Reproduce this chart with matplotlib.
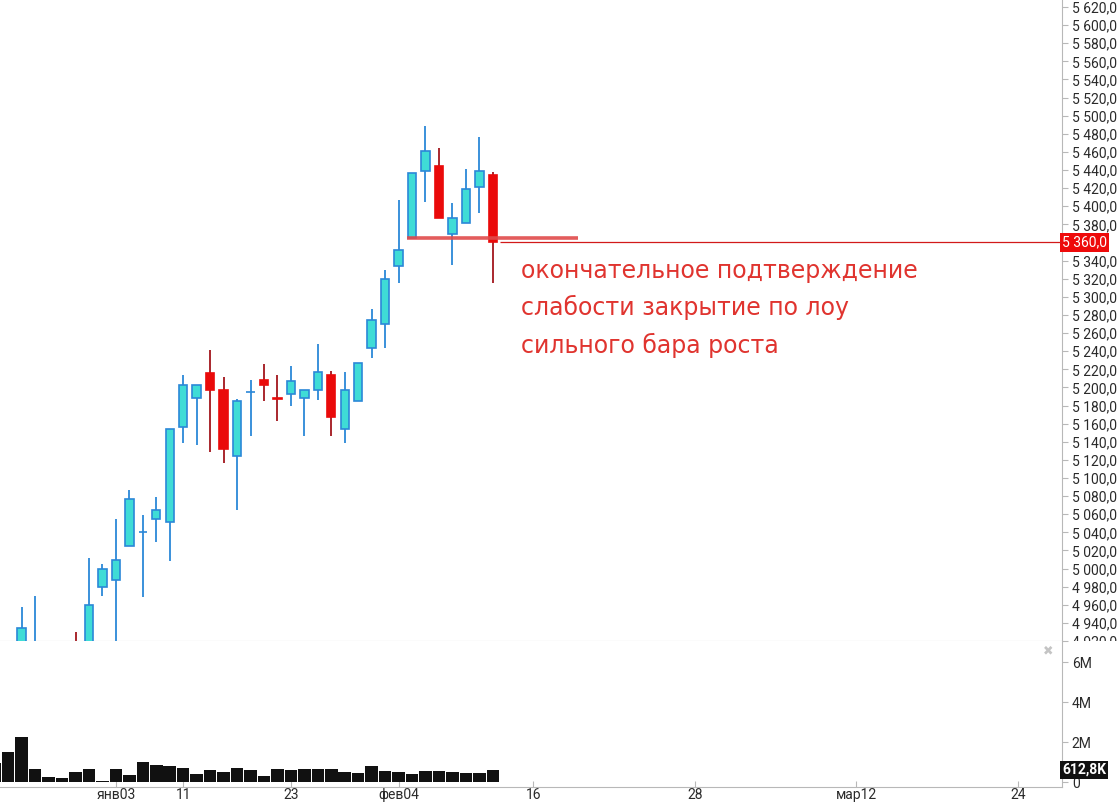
import matplotlib
matplotlib.use("Agg")
import matplotlib.pyplot as plt
from matplotlib.transforms import Bbox, TransformedBbox
import numpy as np

# daily candles, index = bar number on the chart
opens = [4895, 4905, 4910, 4905, 4915, 4900, 4918, 4912, 4979.5, 4987, 5024.5, 5040, 5054.5, 5051,
         5156, 5188, 5215.5, 5197.5, 5124, 5195, 5208, 5188, 5193, 5188, 5197.5, 5213.5, 5154,
         5185.5, 5243, 5270.5, 5334.5, 5365, 5439, 5444.5, 5369.5, 5381.5, 5421.5, 5434]
highs = [4910, 4915, 4958, 4970, 4918, 4912, 4930.5, 5012, 5005, 5054.5, 5087, 5059, 5079.5, 5154,
         5213.5, 5203, 5241, 5211, 5187.5, 5208, 5225.5, 5213.5, 5223.5, 5197.5, 5247.5, 5218, 5217.5,
         5227.5, 5287, 5330, 5407, 5437, 5489, 5464.5, 5404, 5441.5, 5477, 5437.5]
lows = [4880, 4890, 4900, 4895, 4890, 4885, 4895, 4905, 4970, 4915, 5024.5, 4968.5, 5029.5, 5008.5,
        5139, 5136, 5129, 5117, 5065, 5146.5, 5184.5, 5162.5, 5179, 5146.5, 5186, 5146.5, 5139,
        5185.5, 5232, 5243, 5315.5, 5365, 5405, 5387, 5335.5, 5381.5, 5392, 5315.5]
closes = [4905, 4900, 4934, 4918, 4900, 4908, 4905, 4960, 4999.5, 5009.5, 5076.5, 5040.3, 5064.5, 5154,
          5203, 5203, 5197.5, 5131.5, 5185.5, 5195.3, 5203, 5187.6, 5207.5, 5197.5, 5217.5, 5167.5,
          5197.5, 5227.5, 5274, 5320, 5352, 5437, 5461, 5387, 5387, 5419, 5439, 5360]
# volume in millions
volumes = [0.94, 1.51, 2.24, 0.65, 0.24, 0.20, 0.49, 0.65, 0.05, 0.65, 0.34, 0.98, 0.83, 0.78, 0.70,
           0.41, 0.59, 0.49, 0.68, 0.59, 0.29, 0.65, 0.60, 0.65, 0.65, 0.65, 0.49, 0.44, 0.78, 0.54,
           0.49, 0.41, 0.54, 0.54, 0.49, 0.44, 0.44, 0.6128]

date_ticks = [9, 14, 22, 30, 40, 52, 64, 76]
date_labels = ["янв03", "11", "23", "фев04", "16", "28", "мар12", "24"]

support_level = 5365          # low of the strong up bar
support_span = (30.65, 43.3)
last_price = 5360
note_lines = ["окончательное подтверждение", "слабости закрытие по лоу", "сильного бара роста"]

UP_FILL, UP_EDGE = "#3fdcd6", "#2b88d8"
DN_FILL, DN_WICK = "#ea0a0a", "#a3161c"
GRID = "#b8b8b8"


def price_fmt(v):
    return f"{v:,.1f}".replace(",", " ").replace(".", ",")


fig = plt.figure(figsize=(11.17, 8.02), dpi=100)
ax = fig.add_axes([0, 0.2007, 0.9508, 0.7993])
axv = fig.add_axes([0, 0.0187, 0.9508, 0.182])

x = np.arange(len(opens))
o = np.array(opens); c = np.array(closes); h = np.array(highs); l = np.array(lows)
up = c >= o

# wicks
ax.vlines(x[up], l[up], h[up], color=UP_EDGE, lw=1.3, zorder=2)
ax.vlines(x[~up], l[~up], h[~up], color=DN_WICK, lw=1.3, zorder=2)
# bodies
bw = 0.62
ax.bar(x[up], np.abs(c - o)[up], bottom=np.minimum(o, c)[up], width=bw,
       color=UP_FILL, edgecolor=UP_EDGE, lw=1.2, zorder=3)
ax.bar(x[~up], np.abs(c - o)[~up], bottom=np.minimum(o, c)[~up], width=bw,
       color=DN_FILL, edgecolor=DN_FILL, lw=1.2, zorder=3)

# support line and last price line
ax.hlines(support_level, support_span[0], support_span[1], color="#e04a4a", lw=2.6, alpha=0.9, zorder=4)
ax.hlines(last_price, len(opens) - 0.45, 200, color="#d21a1a", lw=0.9, zorder=4)

# annotation, one baseline per line (pixel rows 278, 317, 354 from the top)
for i, line in enumerate(note_lines):
    ypix = 802 - (278 + 37.5 * i)
    ax.text(521 / 1117, ypix / 802, line, transform=fig.transFigure, color="#e0342f",
            fontsize=17, family="DejaVu Sans", va="baseline", ha="left")

ax.set_xlim(0.39, 79.29)
ax.set_ylim(4921.5, 5627.7)
ax.yaxis.tick_right()
yt = np.arange(4920, 5621, 20)
ax.set_yticks(yt)
ax.set_yticklabels([price_fmt(v) for v in yt])
ax.tick_params(axis="y", direction="out", length=4, width=0.8, color=GRID, pad=3,
               labelsize=10, labelcolor="#2a2a2a")
ax.set_xticks([])
for s in ["top", "left"]:
    ax.spines[s].set_visible(False)
ax.spines["right"].set_color(GRID)
ax.spines["bottom"].set_color(GRID)
clip = TransformedBbox(Bbox([[0, 0.2007], [1, 1]]), fig.transFigure)
for lab in ax.get_yticklabels():
    lab.set_family("Roboto")
    lab.set_clip_box(clip)
    lab.set_clip_on(True)
    if lab.get_text().startswith("5 360"):
        lab.set_visible(False)

ax.text(1.0, last_price, price_fmt(last_price),
        transform=ax.get_yaxis_transform(), ha="left", va="center", fontsize=10,
        family="Roboto", color="white", clip_on=False,
        bbox=dict(boxstyle="square,pad=0.15", fc="#ee0a0a", ec="none"))

# volume pane
axv.bar(x, volumes, width=0.93, color="#111111", zorder=2)
axv.set_xlim(0.39, 79.29)
axv.set_ylim(-0.25, 7.05)
axv.yaxis.tick_right()
axv.set_yticks([0, 2, 4, 6])
axv.set_yticklabels(["0", "2M", "4M", "6M"])
axv.tick_params(axis="y", direction="out", length=4, width=0.8, color=GRID, pad=3,
                labelsize=10, labelcolor="#2a2a2a")
axv.set_xticks(date_ticks)
axv.set_xticklabels(date_labels)
axv.tick_params(axis="x", direction="in", length=4, width=0.8, color=GRID, pad=1,
                labelsize=10, labelcolor="#2a2a2a")
for lab in axv.get_xticklabels() + axv.get_yticklabels():
    lab.set_family("Roboto")
for s in ["top", "left"]:
    axv.spines[s].set_visible(False)
axv.spines["right"].set_color(GRID)
axv.spines["bottom"].set_color(GRID)

axv.text(1.0, volumes[-1], f"{volumes[-1] * 1000:.1f}K".replace(".", ","),
         transform=axv.get_yaxis_transform(), ha="left", va="center", fontsize=10,
         family="Roboto", color="white", weight="bold", clip_on=False,
         bbox=dict(boxstyle="square,pad=0.15", fc="#111111", ec="none"))
axv.text(0.987, 0.93, "✖", transform=axv.transAxes, ha="center", va="center",
         fontsize=9, color="#c4c4c4", family="DejaVu Sans")

fig.savefig("out.png", dpi=100)
